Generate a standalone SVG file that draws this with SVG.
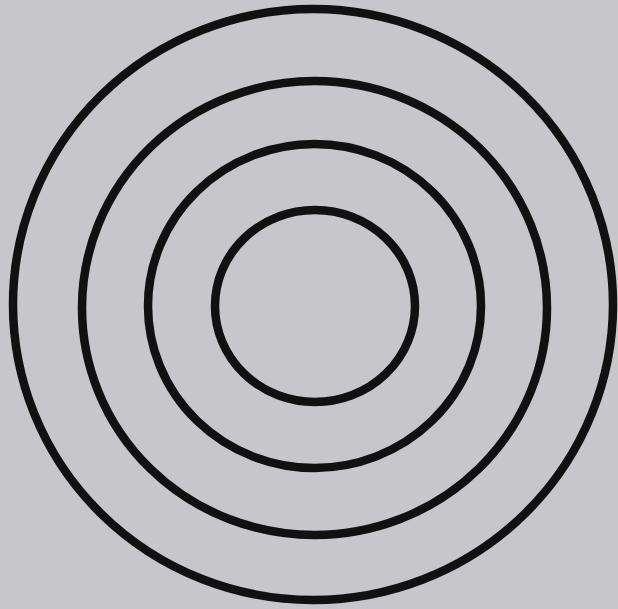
<svg xmlns="http://www.w3.org/2000/svg" width="618" height="609" viewBox="0 0 618 609">
<style>
.ring{fill:none;stroke:#111;stroke-width:8.5}
</style>
<rect width="618" height="609" fill="#c6c6cb"/>
<g id="ring4"><ellipse class="ring" cx="313" cy="304.5" rx="300" ry="295.5"/></g>
<g id="ring3"><ellipse class="ring" cx="314.5" cy="308" rx="232.5" ry="227"/></g>
<g id="ring2"><ellipse class="ring" cx="314.5" cy="306" rx="166.5" ry="162"/></g>
<g id="ring1"><ellipse class="ring" cx="315" cy="306" rx="100" ry="96"/></g>
</svg>
